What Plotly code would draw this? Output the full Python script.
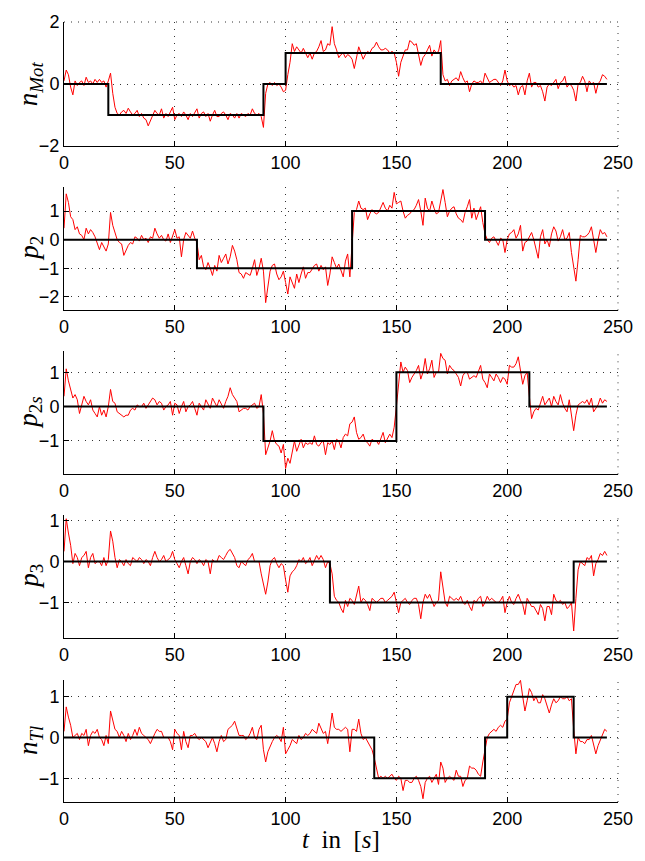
import plotly.graph_objects as go

# ---------------- data ----------------
t = list(range(246))

n_mot_meas = [
    0.10, 0.45, 0.30, -0.10, -0.35, 0.10, -0.05, 0.05, 0.10, -0.05,
    0.22, 0.05, 0.10, 0.00, 0.15, 0.05, 0.15, 0.05, 0.10, -0.10,
    0.10, 0.35, -0.30, -0.75, -0.95, -1.00, -0.90, -0.85, -0.95, -0.78,
    -0.90, -1.00, -0.95, -0.85, -1.05, -0.95, -1.10, -1.15, -1.35, -1.20,
    -1.05, -0.85, -0.95, -1.00, -0.80, -1.10, -0.95, -1.05, -0.90, -0.75,
    -1.15, -1.00, -0.95, -1.05, -0.90, -1.00, -1.15, -0.95, -1.05, -0.90,
    -0.80, -1.10, -0.95, -0.90, -1.05, -0.95, -1.20, -1.00, -0.85, -1.05,
    -1.05, -0.95, -0.90, -1.00, -1.15, -0.95, -1.00, -1.10, -0.95, -1.10,
    -0.95, -1.00, -1.05, -0.95, -1.00, -0.80, -0.95, -1.00, -0.95, -1.05,
    -1.40, -0.30, 0.00, 0.05, -0.05, 0.05, -0.05, 0.00, -0.10, -0.25,
    -0.20, 0.30, 0.70, 1.30, 1.05, 1.20, 1.10, 1.00, 1.15, 1.00,
    0.85, 1.00, 0.80, 1.00, 1.05, 1.20, 1.40, 1.05, 1.10, 1.30,
    1.25, 1.85, 1.30, 1.10, 0.85, 0.95, 1.00, 0.85, 0.95, 0.90,
    0.80, 0.50, 0.90, 1.20, 1.00, 0.80, 0.95, 1.05, 1.00, 1.15,
    1.20, 1.35, 1.20, 1.10, 1.10, 1.15, 1.10, 1.00, 1.05, 1.00,
    0.70, 0.25, 0.70, 0.90, 1.10, 1.10, 1.40, 1.35, 1.25, 1.30,
    1.00, 0.60, 0.85, 0.95, 1.10, 1.25, 0.90, 1.10, 1.00, 1.05,
    1.40, 0.30, 0.10, 0.15, -0.05, 0.10, 0.15, 0.20, 0.10, 0.40,
    0.20, 0.05, 0.10, -0.25, 0.00, 0.10, 0.05, 0.05, 0.10, 0.00,
    0.35, 0.20, 0.05, 0.10, 0.15, 0.15, 0.05, -0.05, 0.10, 0.45,
    0.10, -0.05, 0.00, -0.10, -0.05, -0.35, -0.10, -0.05, -0.35, 0.10,
    0.35, -0.10, 0.05, 0.05, -0.10, -0.05, -0.25, -0.55, -0.10, 0.00,
    -0.05, 0.05, 0.15, -0.15, 0.05, 0.10, 0.25, -0.10, 0.00, -0.05,
    -0.20, -0.55, 0.00, 0.05, 0.25, 0.10, -0.25, 0.10, 0.00, 0.05,
    -0.30, 0.00, 0.10, 0.30, 0.25, 0.15,
]

p2_meas = [
    0.40, 1.60, 1.30, 0.80, 0.70, 0.35, 0.45, 0.20, 0.15, 0.00,
    0.40, 0.20, 0.35, 0.25, 0.10, -0.10, -0.35, -0.10, -0.25, -0.40,
    -0.15, 0.95, 0.50, 0.20, 0.00, -0.10, -0.15, -0.55, -0.35, -0.20,
    -0.10, -0.15, 0.10, 0.05, -0.05, 0.15, 0.00, 0.05, -0.10, 0.10,
    0.05, 0.40, 0.20, 0.05, 0.15, 0.00, -0.05, 0.20, -0.10, 0.10,
    0.35, 0.05, 0.10, -0.60, 0.00, 0.25, 0.15, 0.05, 0.30, 0.05,
    -0.10, -0.70, -0.55, -0.95, -1.05, -0.80, -1.00, -1.25, -0.90, -1.10,
    -0.55, -0.80, -0.65, -0.50, -0.85, -0.60, -0.20, -0.40, -0.70, -1.15,
    -1.20, -1.35, -1.15, -1.20, -1.25, -1.00, -0.70, -1.25, -1.00, -0.65,
    -1.10, -2.20, -1.60, -1.10, -0.90, -0.85, -1.20, -1.40, -1.30, -1.10,
    -1.50, -1.90, -1.30, -1.50, -1.70, -1.20, -1.50, -1.20, -0.95, -1.35,
    -1.15, -1.15, -1.00, -0.90, -0.85, -1.10, -0.90, -1.05, -0.95, -1.60,
    -1.20, -0.60, -0.80, -1.00, -0.85, -1.05, -1.30, -0.75, -0.50, -1.30,
    -0.20, 0.95, 1.05, 1.35, 1.10, 1.05, 1.10, 0.70, 0.90, 1.05,
    0.95, 0.90, 0.95, 1.10, 1.30, 1.10, 1.00, 1.20, 1.10, 1.65,
    1.25, 1.30, 1.35, 1.00, 0.75, 0.85, 0.90, 1.00, 1.05, 1.20,
    1.40, 1.00, 0.50, 1.45, 1.10, 1.00, 1.35, 1.10, 0.90, 0.95,
    1.30, 1.75, 1.30, 0.80, 1.00, 1.10, 1.15, 0.90, 0.75, 0.70,
    0.60, 0.95, 1.15, 1.40, 0.75, 1.10, 0.70, 0.95, 1.15, 0.60,
    0.20, 0.00, -0.10, 0.05, 0.10, -0.05, -0.20, 0.05, 0.00, -0.45,
    0.00, 0.20, 0.25, 0.35, 0.05, 0.20, 0.50, -0.40, -0.10, -0.05,
    0.10, 0.25, 0.00, -0.30, -0.65, 0.10, 0.35, -0.15, 0.00, -0.25,
    0.20, 0.45, 0.30, -0.05, 0.10, 0.35, 0.00, 0.05, 0.25, -0.45,
    -0.90, -1.45, -0.70, 0.15, 0.10, 0.10, 0.15, 0.25, 0.45, 0.05,
    -0.45, 0.00, 0.35, 0.20, 0.25, 0.10,
]

p2s_meas = [
    0.30, 1.10, 0.75, 0.50, 0.25, 0.35, 0.20, -0.20, 0.05, 0.30,
    0.15, 0.05, 0.20, -0.10, -0.20, -0.30, 0.00, -0.25, -0.10, -0.30,
    0.00, 0.50, 0.15, 0.10, -0.15, -0.20, -0.25, -0.30, -0.25, -0.25,
    -0.10, -0.05, -0.10, 0.05, 0.00, 0.00, 0.10, -0.05, 0.05, 0.15,
    0.25, 0.20, 0.05, 0.15, 0.10, -0.10, 0.00, 0.05, 0.15, -0.25,
    0.10, 0.05, -0.20, 0.00, 0.15, -0.15, 0.00, 0.05, 0.15, -0.05,
    -0.25, 0.10, 0.00, -0.10, 0.20, 0.05, -0.05, 0.25, 0.10, 0.00,
    0.20, 0.05, -0.05, 0.15, 0.30, 0.55, 0.35, 0.25, 0.15, -0.15,
    -0.10, -0.05, -0.05, -0.10, 0.00, 0.05, 0.10, -0.05, 0.00, 0.35,
    -0.20, -1.40, -1.20, -1.00, -0.70, -1.00, -1.10, -1.15, -1.35, -1.10,
    -1.80, -1.50, -1.65, -1.30, -1.00, -1.30, -1.10, -0.95, -1.20, -1.05,
    -1.10, -1.05, -1.10, -0.85, -1.10, -1.15, -1.05, -1.00, -1.40, -1.05,
    -1.10, -1.00, -1.25, -0.95, -1.00, -1.20, -0.90, -0.80, -0.85, -0.50,
    -0.45, -0.30, -0.75, -0.95, -0.90, -0.80, -1.00, -1.05, -1.15, -0.95,
    -1.00, -1.00, -1.10, -0.95, -0.75, -1.05, -0.90, -0.80, -0.90, -0.60,
    0.00, 0.60, 1.30, 1.00, 1.15, 1.05, 0.70, 0.85, 0.95, 1.05,
    1.20, 0.80, 1.00, 1.40, 0.95, 1.10, 1.35, 0.85, 1.00, 1.00,
    1.55, 1.40, 1.35, 0.95, 1.20, 1.10, 1.05, 0.95, 0.85, 0.60,
    0.90, 1.00, 1.00, 0.80, 0.85, 0.90, 0.85, 1.05, 1.20, 0.80,
    0.70, 0.55, 0.95, 0.85, 0.75, 0.95, 0.85, 0.70, 0.85, 0.80,
    0.65, 1.20, 1.15, 1.15, 1.25, 1.45, 1.05, 0.65, 0.90, 1.00,
    0.30, -0.35, -0.15, -0.05, -0.10, 0.10, 0.30, 0.05, 0.15, 0.25,
    0.00, 0.30, 0.15, 0.05, 0.35, 0.10, -0.05, -0.15, 0.20, -0.20,
    -0.70, -0.25, 0.05, 0.10, 0.15, 0.10, 0.20, 0.05, 0.25, -0.15,
    -0.05, 0.05, 0.25, 0.10, 0.20, 0.15,
]

p3_meas = [
    0.25, 1.05, 0.70, 0.40, -0.05, 0.20, 0.10, -0.10, 0.10, 0.15,
    0.25, -0.15, 0.10, 0.20, -0.05, 0.00, 0.00, -0.10, 0.10, -0.10,
    0.05, 0.75, 0.50, 0.10, -0.15, 0.05, 0.00, -0.10, 0.05, -0.05,
    -0.10, 0.10, 0.05, 0.00, 0.10, 0.05, -0.05, 0.05, 0.00, -0.10,
    0.10, 0.25, 0.10, 0.00, 0.05, 0.15, 0.00, 0.05, 0.10, 0.25,
    0.05, -0.05, -0.15, 0.00, 0.10, -0.10, -0.30, 0.00, 0.10, 0.05,
    -0.05, 0.05, 0.00, -0.10, 0.05, 0.00, -0.30, 0.05, 0.00, 0.00,
    0.15, 0.10, 0.05, 0.15, 0.25, 0.30, 0.20, 0.10, -0.10, -0.15,
    0.00, -0.05, -0.10, 0.05, 0.10, 0.20, 0.00, 0.00, 0.00, -0.30,
    -0.55, -0.80, -0.50, -0.10, 0.05, 0.10, -0.05, -0.15, -0.05, -0.10,
    -0.45, -0.75, -0.35, -0.25, -0.20, -0.10, 0.05, 0.00, 0.10, -0.05,
    0.00, 0.10, -0.10, 0.05, 0.15, 0.05, 0.15, 0.05, -0.15, 0.00,
    -0.05, -0.30, -0.85, -0.95, -1.00, -1.15, -1.25, -0.95, -1.10, -0.90,
    -0.95, -1.05, -0.85, -0.60, -1.00, -0.90, -0.95, -1.05, -1.20, -0.90,
    -0.95, -1.00, -0.95, -0.90, -0.90, -1.00, -0.95, -0.90, -0.85, -0.75,
    -1.00, -1.25, -1.00, -0.95, -0.90, -1.00, -1.05, -0.95, -0.90, -0.90,
    -1.05, -1.40, -1.00, -0.80, -0.90, -0.80, -0.95, -1.10, -1.00, -0.95,
    -0.25, -0.60, -1.00, -1.10, -0.85, -0.90, -0.95, -0.90, -0.95, -0.85,
    -1.00, -1.05, -0.95, -1.10, -1.20, -0.95, -1.00, -0.90, -0.85, -1.10,
    -1.00, -0.85, -0.95, -0.90, -0.95, -1.00, -1.00, -0.95, -0.85, -1.25,
    -1.00, -0.85, -1.00, -1.05, -0.90, -0.80, -0.95, -1.05, -1.30, -0.90,
    -1.00, -1.10, -1.10, -1.20, -1.30, -1.05, -1.15, -1.45, -1.10, -1.10,
    -1.30, -0.80, -0.95, -1.00, -0.95, -1.05, -1.00, -1.15, -1.10, -1.00,
    -1.70, -0.90, -0.20, 0.00, -0.05, -0.10, 0.10, 0.05, 0.15, -0.35,
    -0.05, 0.05, 0.20, 0.15, 0.25, 0.15,
]

n_tl_meas = [
    0.15, 0.75, 0.50, 0.30, 0.00, 0.05, 0.10, -0.05, 0.10, 0.05,
    0.20, -0.20, 0.05, 0.15, 0.10, 0.20, 0.00, -0.05, -0.20, 0.05,
    -0.15, 0.65, 0.40, 0.20, 0.15, 0.00, 0.15, 0.05, -0.10, 0.10,
    -0.05, 0.05, 0.20, 0.05, 0.25, 0.10, 0.05, 0.00, -0.05, -0.15,
    0.00, 0.10, 0.20, 0.15, 0.15, 0.00, 0.00, 0.00, -0.10, -0.30,
    0.20, 0.10, 0.05, -0.30, 0.15, -0.10, -0.25, 0.05, 0.05, 0.10,
    0.00, -0.05, 0.00, -0.05, -0.10, -0.25, -0.10, 0.00, -0.15, -0.35,
    -0.10, 0.05, -0.10, -0.05, 0.20, 0.25, 0.30, 0.40, 0.20, 0.05,
    0.05, 0.05, -0.05, 0.00, 0.10, 0.25, 0.00, -0.05, 0.20, 0.30,
    -0.30, -0.60, -0.35, -0.20, -0.10, 0.00, 0.05, 0.00, -0.10, 0.25,
    -0.40, -0.30, -0.20, -0.05, -0.10, -0.15, 0.05, -0.05, 0.00, 0.10,
    0.05, 0.10, 0.20, 0.15, 0.10, 0.35, 0.20, 0.10, 0.15, -0.15,
    0.20, 0.60, 0.25, 0.20, 0.20, 0.15, 0.20, 0.25, 0.20, -0.35,
    0.20, 0.20, 0.15, 0.45, 0.10, -0.05, 0.00, -0.10, -0.20, -0.30,
    -0.50, -0.80, -1.00, -0.95, -1.00, -0.95, -1.00, -0.95, -0.90, -1.00,
    -1.05, -0.95, -1.00, -1.30, -1.05, -1.05, -1.10, -1.10, -1.00, -0.95,
    -1.05, -1.20, -1.50, -1.10, -1.00, -0.95, -1.10, -1.00, -0.90, -1.15,
    -0.60, -0.75, -1.10, -1.00, -0.95, -1.00, -1.05, -0.80, -0.95, -0.95,
    -1.20, -1.05, -1.00, -0.70, -0.75, -0.75, -0.80, -0.90, -0.95, -0.60,
    -0.30, 0.00, 0.10, 0.15, 0.20, 0.15, 0.25, 0.30, 0.25, 0.40,
    0.45, 0.85, 1.00, 1.15, 1.30, 1.30, 1.40, 1.00, 0.65, 0.90,
    1.20, 1.10, 0.90, 1.00, 0.85, 0.85, 1.05, 0.95, 0.80, 0.60,
    0.80, 0.95, 0.85, 0.90, 1.00, 0.95, 0.95, 1.00, 0.90, 0.95,
    0.20, -0.40, 0.00, -0.10, -0.10, -0.15, -0.05, -0.05, 0.05, -0.20,
    -0.40, -0.20, -0.05, 0.05, 0.20, 0.15,
]

# reference (set-point) step signals: switching times and levels
n_mot_ref_t = [0, 20, 90, 100, 170, 245]
n_mot_ref_v = [0, -1, 0, 1, 0, 0]
p2_ref_t = [0, 60, 130, 190, 245]
p2_ref_v = [0, -1, 1, 0, 0]
p2s_ref_t = [0, 90, 150, 210, 245]
p2s_ref_v = [0, -1, 1, 0, 0]
p3_ref_t = [0, 120, 230, 245]
p3_ref_v = [0, -1, 0, 0]
n_tl_ref_t = [0, 140, 190, 200, 230, 245]
n_tl_ref_v = [0, -1, 0, 1, 0, 0]

y_labels = [
    "<i>n</i><sub><i>Mot</i></sub>",
    "<i>p</i><sub>2</sub>",
    "<i>p</i><sub>2<i>s</i></sub>",
    "<i>p</i><sub>3</sub>",
    "<i>n</i><sub><i>Tl</i></sub>",
]
x_label = "<i>t</i>  in  [<i>s</i>]"
y_ticks = [[-2, 0, 2], [-2, -1, 0, 1], [-1, 0, 1], [-1, 0, 1], [-1, 0, 1]]
x_ticks = [0, 50, 100, 150, 200, 250]

# ---------------- layout helpers ----------------
meas = [n_mot_meas, p2_meas, p2s_meas, p3_meas, n_tl_meas]
refs = [(n_mot_ref_t, n_mot_ref_v), (p2_ref_t, p2_ref_v), (p2s_ref_t, p2s_ref_v),
        (p3_ref_t, p3_ref_v), (n_tl_ref_t, n_tl_ref_v)]
y_ranges = [[-2, 2], [-2.47, 1.84], [-1.97, 1.63], [-1.88, 1.15], [-1.58, 1.42]]
domains = [[0.841, 1.0], [0.6303, 0.7885], [0.4201, 0.5787], [0.2098, 0.3684], [0.0, 0.157]]

GRID = "#333333"
DASH = "1px,6px"
TICKFONT = dict(family="Liberation Sans", size=18, color="black")
YTITLEFONT = dict(family="Liberation Serif", size=27, color="black")
XTITLEFONT = dict(family="Liberation Serif", size=25, color="black")

L_MARGIN, R_MARGIN = 64, 24
PLOT_W = 645 - L_MARGIN - R_MARGIN
YTITLE_CENTER_PX = 30  # horizontal centre of the y titles, in page pixels

fig = go.Figure()
layout = dict(
    width=645, height=861,
    margin=dict(l=L_MARGIN, r=R_MARGIN, t=14, b=59),
    paper_bgcolor="white", plot_bgcolor="white",
    showlegend=False,
)
shapes = []
annotations = []

for k in range(5):
    sx = "" if k == 0 else str(k + 1)
    xa, ya = "x" + sx, "y" + sx
    fig.add_trace(go.Scatter(x=t, y=meas[k], mode="lines",
                             line=dict(color="#ff0000", width=1),
                             xaxis=xa, yaxis=ya, hoverinfo="skip"))
    fig.add_trace(go.Scatter(x=refs[k][0], y=refs[k][1], mode="lines",
                             line=dict(color="black", width=2, shape="hv"),
                             xaxis=xa, yaxis=ya, hoverinfo="skip"))
    xdef = dict(
        domain=[0, 1], anchor=ya, range=[0, 250], tickvals=x_ticks,
        ticks="inside", ticklen=5, tickcolor="black", showline=True,
        linecolor="black", linewidth=1, showgrid=True, gridcolor=GRID,
        griddash=DASH, gridwidth=1, zeroline=False, tickfont=TICKFONT,
    )
    if k == 4:
        xdef["title"] = dict(text=x_label, font=XTITLEFONT, standoff=2)
    layout["xaxis" + sx] = xdef
    layout["yaxis" + sx] = dict(
        domain=domains[k], anchor=xa, range=y_ranges[k], tickvals=y_ticks[k],
        ticks="inside", ticklen=5, tickcolor="black", showline=True,
        linecolor="black", linewidth=1, showgrid=True, gridcolor=GRID,
        griddash=DASH, gridwidth=1, zeroline=False, tickfont=TICKFONT,
    )
    # y title as rotated annotation
    annotations.append(dict(
        text=y_labels[k], textangle=-90, font=YTITLEFONT, showarrow=False,
        xref="paper", yref="paper",
        x=(YTITLE_CENTER_PX - L_MARGIN) / PLOT_W, xanchor="center",
        y=(domains[k][0] + domains[k][1]) / 2, yanchor="middle",
    ))
    # dotted grid line along the right edge (x = 250)
    shapes.append(dict(type="line", xref=xa + " domain", yref=ya + " domain",
                       x0=1, x1=1, y0=0, y1=1,
                       line=dict(color=GRID, width=1, dash=DASH), layer="below"))

# dotted grid line at top tick of first panel (y = 2)
shapes.append(dict(type="line", xref="x domain", yref="y domain",
                   x0=0, x1=1, y0=1, y1=1,
                   line=dict(color=GRID, width=1, dash=DASH), layer="below"))

layout["shapes"] = shapes
layout["annotations"] = annotations
fig.update_layout(**layout)
fig.write_html("out.html")
